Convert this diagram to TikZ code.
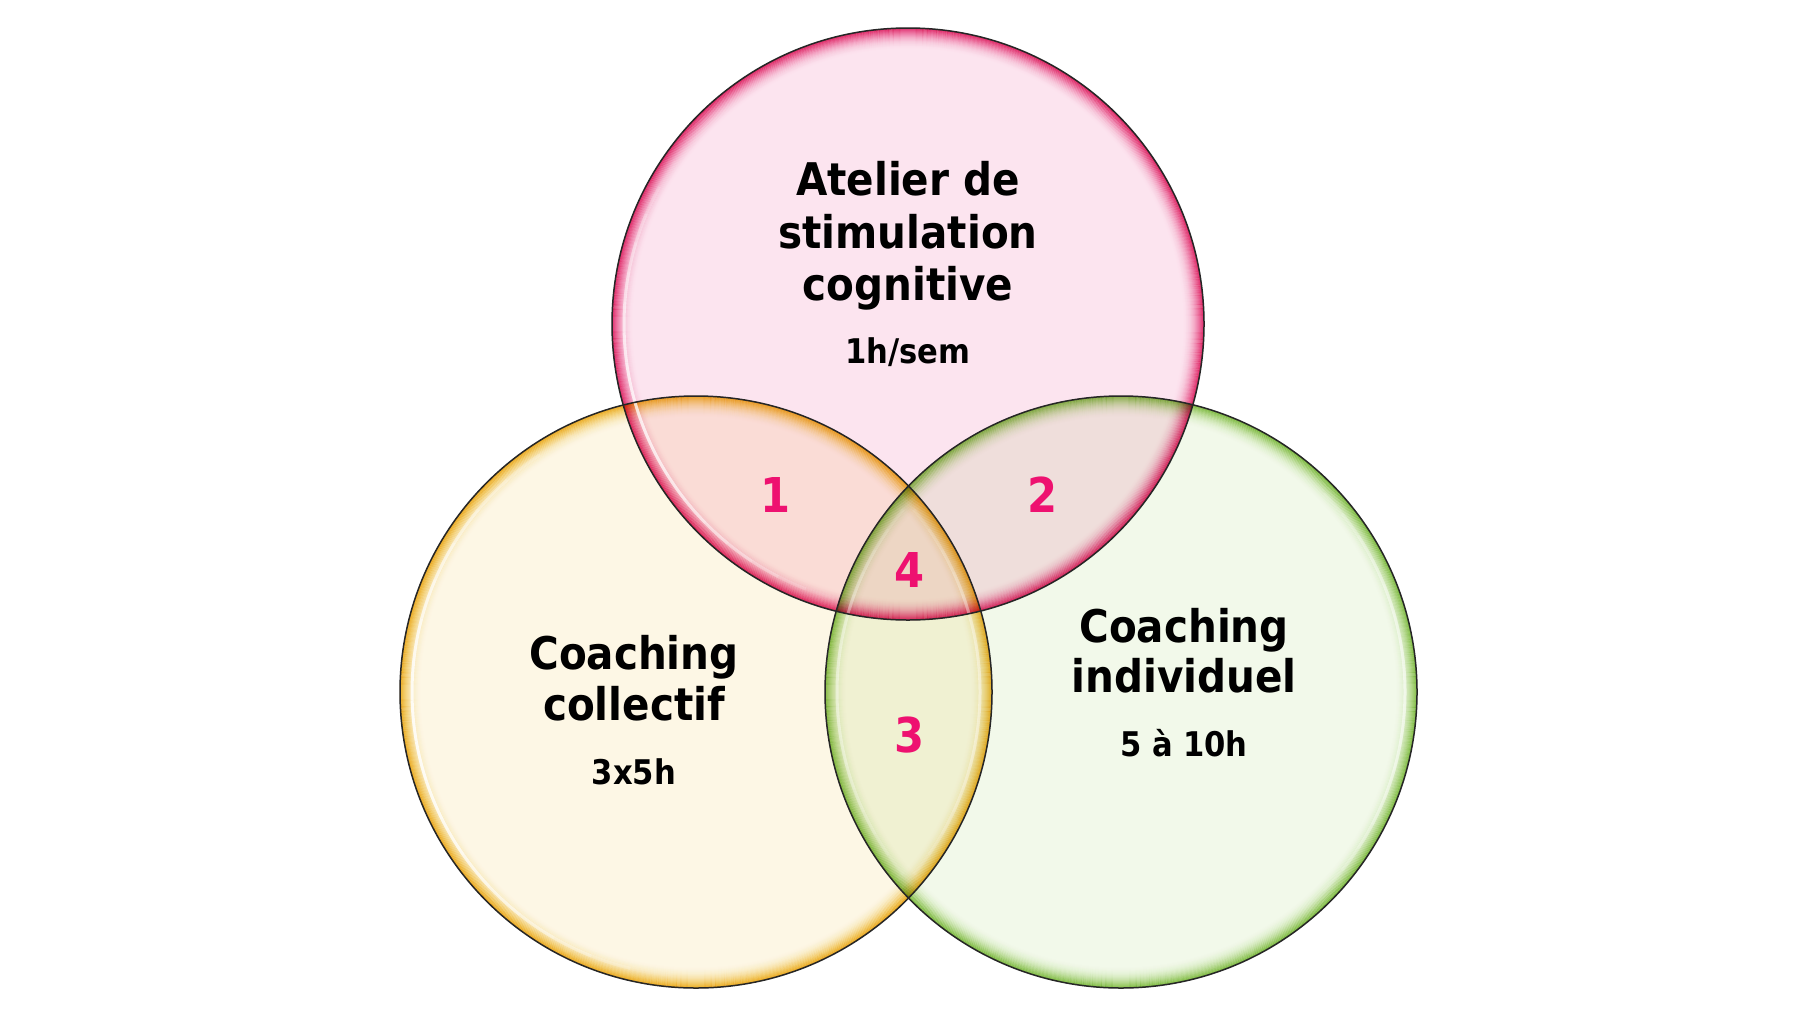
\documentclass[tikz,border=0pt]{standalone}
\usepackage{fontspec}
\setmainfont{DejaVu Sans Condensed}
\definecolor{pinkfill}{HTML}{FCE4EF}
\definecolor{pinkrim}{HTML}{EA4488}
\definecolor{yelfill}{HTML}{FDF7E5}
\definecolor{yelrim}{HTML}{F2C43A}
\definecolor{grnfill}{HTML}{F2F9EA}
\definecolor{grnrim}{HTML}{A0D064}
\definecolor{numcol}{HTML}{EE1170}
\newcommand\glossarc[4]{%
  \foreach \k in {-9,...,8}{%
    \pgfmathsetmacro\aa{#2+#3*\k/9}%
    \pgfmathsetmacro\bb{#2+#3*(\k+1)/9}%
    \pgfmathsetmacro\op{#4*cos(90*(\k+0.5)/9)}%
    \draw[white, line width=3pt, opacity=\op] (#1) ++(\aa:284) arc[start angle=\aa, end angle=\bb, radius=284];
  }}
\begin{document}
\begin{tikzpicture}[x=1pt,y=-1pt,
  venn/.style={circle, minimum size=592pt, inner sep=0pt, outer sep=0pt},
  title/.style={anchor=base, font=\fontsize{45}{50}\selectfont\bfseries},
  sub/.style={anchor=base, font=\fontsize{34}{40}\selectfont\bfseries},
  num/.style={anchor=base, text=numcol, font=\fontsize{48}{54}\selectfont\bfseries}]
\useasboundingbox (0,0) rectangle (1819,1015);
\fill[white] (0,0) rectangle (1819,1015);
\coordinate (ctop) at (908,324);
\coordinate (cleft) at (696,692);
\coordinate (cright) at (1121,692);
\begin{scope}[blend mode=multiply]
  \node[venn, fill=pinkfill] (atelier) at (ctop) {};
  \node[venn, fill=yelfill] (collectif) at (cleft) {};
  \node[venn, fill=grnfill] (individuel) at (cright) {};
  \foreach \i in {0,...,21}{
    \pgfmathtruncatemacro\p{100*(1-\i/22)^2.3}
    \draw[pinkrim!\p!white, line width=1.3pt] (atelier.center) circle (295.5-\i);
    \draw[yelrim!\p!white, line width=1.3pt] (collectif.center) circle (295.5-\i);
    \draw[grnrim!\p!white, line width=1.3pt] (individuel.center) circle (295.5-\i);
  }
\end{scope}
% glossy highlights
\glossarc{ctop}{160}{55}{0.75}
\glossarc{cleft}{170}{75}{0.85}
\glossarc{cright}{0}{50}{0.6}
\glossarc{cright}{180}{45}{0.45}
\glossarc{cleft}{0}{45}{0.45}
% outlines
\draw[line width=1.5pt, black!85] (atelier.center) circle (296);
\draw[line width=1.5pt, black!85] (collectif.center) circle (296);
\draw[line width=1.5pt, black!85] (individuel.center) circle (296);
% texts
\node[title] (t1) at (908,195) {Atelier de};
\node[title] (t2) at (908,248) {stimulation};
\node[title] (t3) at (908,300) {cognitive};
\node[sub] (t4) at (908,363) {1h/sem};
\node[title] (l1) at (634,669) {Coaching};
\node[title] (l2) at (634,720) {collectif};
\node[sub] (l3) at (634,784) {3x5h};
\node[title] (r1) at (1184,642) {Coaching};
\node[title] (r2) at (1184,692) {individuel};
\node[sub] (r3) at (1184,756) {5 à 10h};
\node[num] (n1) at (776,512) {1};
\node[num] (n2) at (1043,512) {2};
\node[num] (n4) at (910,587) {4};
\node[num] (n3) at (910,752) {3};
\end{tikzpicture}
\end{document}
